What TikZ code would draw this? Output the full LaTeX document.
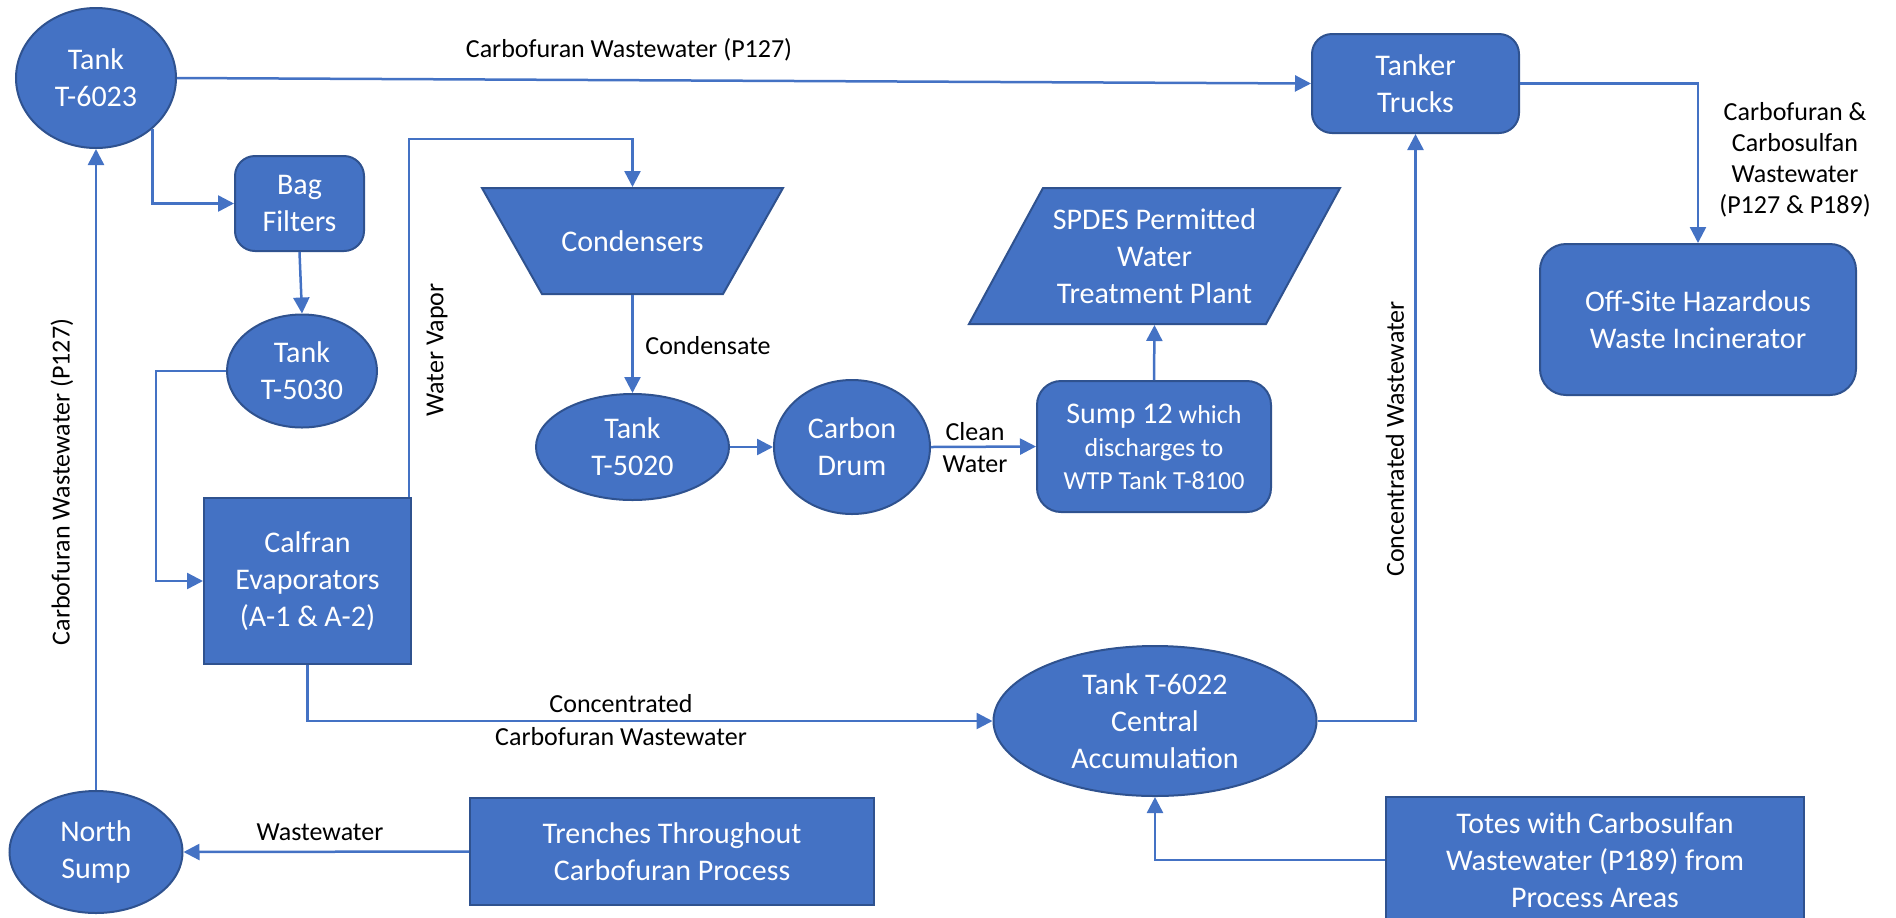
\documentclass[tikz,border=0pt]{standalone}
\usepackage{fontspec}
\setmainfont{Carlito}
\usetikzlibrary{shapes.geometric,arrows.meta}
\definecolor{obl}{HTML}{4472C4}
\definecolor{obd}{HTML}{2F528F}
\begin{document}
\begin{tikzpicture}[x=0.5pt,y=-0.5pt,
  shp/.style={fill=obl,draw=obd,line width=1pt,text=white,align=center,inner sep=0pt,font=\fontsize{15}{18.5}\selectfont},
  ell/.style={shp,ellipse},
  box/.style={shp,rectangle},
  rbox/.style={shp,rectangle,rounded corners=10pt},
  ghost/.style={shp,rectangle,fill=none,draw=none},
  lbl/.style={text=black,align=center,inner sep=0pt,font=\fontsize{13}{16}\selectfont},
  arr/.style={draw=obl,line width=1.25pt,-{Triangle[length=8pt,width=8pt]}}]
\useasboundingbox (0,0) rectangle (1896,917);

% shapes drawn directly
\filldraw[fill=obl,draw=obd,line width=1pt] (482,188) -- (783,188) -- (723,294) -- (542,294) -- cycle;
\filldraw[fill=obl,draw=obd,line width=1pt] (1043,188) -- (1340,188) -- (1266,324) -- (969,324) -- cycle;

% nodes
\node[ell,minimum width=80pt,minimum height=70pt] (t6023) at (96,78) {Tank\\T-6023};
\node[rbox,minimum width=64.5pt,minimum height=47.5pt] (bag) at (299.5,203.5) {Bag\\Filters};
\node[ell,minimum width=75pt,minimum height=56.5pt] (t5030) at (302,371) {Tank\\T-5030};
\node[box,minimum width=103.5pt,minimum height=83pt] (evap) at (307.5,581) {Calfran\\Evaporators\\(A-1 \& A-2)};
\node[ghost,minimum width=150.5pt,minimum height=53pt] (cond) at (632.5,241) {Condensers};
\node[ell,minimum width=96.5pt,minimum height=53pt] (t5020) at (632.5,447) {Tank\\T-5020};
\node[ell,minimum width=78pt,minimum height=67pt] (carbon) at (852,447) {Carbon\\Drum};
\node[rbox,minimum width=117pt,minimum height=65.5pt,rounded corners=12pt,font=\fontsize{13}{16.5}\selectfont] (sump) at (1154,446.5) {{\fontsize{15}{16.5}\selectfont Sump 12} which\\discharges to\\WTP Tank T-8100};
\node[ghost,minimum width=148.5pt,minimum height=68pt] (spdes) at (1154.5,256) {SPDES Permitted\\Water\\Treatment Plant};
\node[rbox,minimum width=103.5pt,minimum height=49.5pt] (tanker) at (1415.5,83.5) {Tanker\\Trucks};
\node[rbox,minimum width=158pt,minimum height=75.5pt,rounded corners=13pt] (offsite) at (1698,319.5) {Off-Site Hazardous\\Waste Incinerator};
\node[ell,minimum width=161.5pt,minimum height=75pt] (t6022) at (1155,721) {Tank T-6022\\Central\\Accumulation};
\node[ell,minimum width=86.5pt,minimum height=61pt] (nsump) at (96,852) {North\\Sump};
\node[box,minimum width=202pt,minimum height=53.5pt] (trench) at (672,851.5) {Trenches Throughout\\Carbofuran Process};
\node[box,minimum width=209pt,minimum height=63pt] (totes) at (1595,860) {Totes with Carbosulfan\\Wastewater (P189) from\\Process Areas};

% labels
\node[lbl] (l1) at (629,50) {Carbofuran Wastewater (P127)};
\node[lbl,rotate=90] (l2) at (62,482) {Carbofuran Wastewater (P127)};
\node[lbl,rotate=90] (l3) at (437,350) {Water Vapor};
\node[lbl,anchor=west] (l4) at (645,346) {Condensate};
\node[lbl] (l5) at (975,448) {Clean\\Water};
\node[lbl,rotate=90] (l6) at (1395,439) {Concentrated Wastewater};
\node[lbl,font=\fontsize{13}{15.5}\selectfont] (l7) at (1795,160) {Carbofuran \&\\Carbosulfan\\Wastewater\\(P127 \& P189)};
\node[lbl,font=\fontsize{13}{16.5}\selectfont] (l8) at (621,720) {Concentrated\\Carbofuran Wastewater};
\node[lbl] (l9) at (320,832) {Wastewater};

% connectors
\draw[arr] (t6023.east) -- (tanker.west);
\draw[arr] (t6023.-42) |- (bag.west);
\draw[arr] (bag.south) -- (t5030.north);
\draw[arr] (t5030.west) -- ++(-70,0) |- (evap.west);
\draw[arr] ([xshift=-1.5pt]evap.north east) -- ++(0,-358) -| (cond.north);
\draw[arr] (cond.south) -- (t5020.north);
\draw[arr] (t5020.east) -- (carbon.west);
\draw[arr] (carbon.east) -- (sump.west);
\draw[arr] (sump.north) -- (spdes.south);
\draw[arr] (tanker.east) -| (offsite.north);
\draw[arr] (evap.south) |- (t6022.west);
\draw[arr] (t6022.east) -| (tanker.south);
\draw[arr] (totes.west) -| (t6022.south);
\draw[arr] (trench.west) -- (nsump.east);
\draw[arr] (nsump.north) -- (t6023.south);
\end{tikzpicture}
\end{document}
